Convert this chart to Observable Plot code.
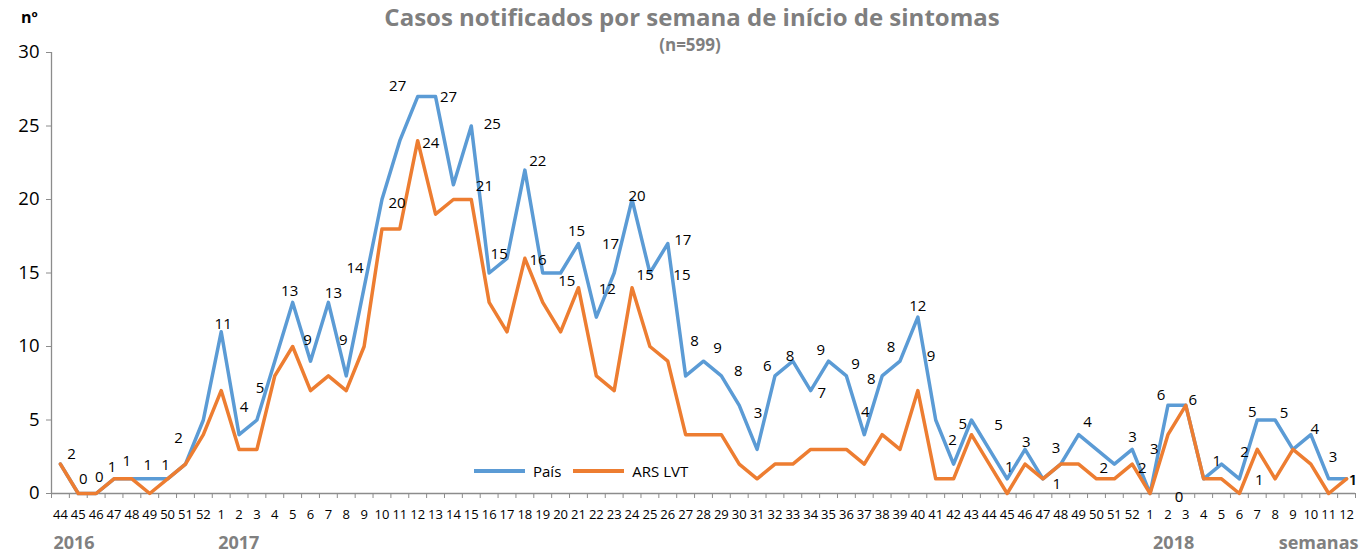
<!DOCTYPE html>
<html><head><meta charset="utf-8">
<script src="https://cdn.jsdelivr.net/npm/d3@7"></script>
<script src="https://cdn.jsdelivr.net/npm/@observablehq/plot@0.6"></script>
<style>
html,body{margin:0;padding:0;background:#fff;overflow:hidden;font-family:"Open Sans",sans-serif;}
#wrap{position:relative;width:1360px;height:558px;}
#chart{position:absolute;left:0;top:0;}
.abs{position:absolute;white-space:nowrap;}
#title{left:692px;top:1px;transform:translateX(-50%);font-weight:700;font-size:24px;color:#7f7f7f;line-height:32px;}
#sub{left:690px;top:34px;transform:translateX(-50%);font-weight:700;font-size:17px;color:#7f7f7f;line-height:22px;}
#ylab{left:21px;top:6px;font-weight:700;font-size:16px;color:#000;line-height:22px;}
#legend{left:474px;top:461px;font-size:15px;color:#000;line-height:20px;display:flex;align-items:center;}
.sw{display:inline-block;width:51px;height:3.5px;margin-right:8px;}
</style></head>
<body>
<div id="wrap">
  <div id="chart"></div>
  <div id="title" class="abs">Casos notificados por semana de início de sintomas</div>
  <div id="sub" class="abs">(n=599)</div>
  <div id="ylab" class="abs">nº</div>
  <div id="legend" class="abs"></div>
</div>
<script>
// ---- data ----
const weeks2016 = [44,45,46,47,48,49,50,51,52];
const weeks2017 = [1,2,3,4,5,6,7,8,9,10,11,12,13,14,15,16,17,18,19,20,21,22,23,24,25,26,27,28,29,30,31,32,33,34,35,36,37,38,39,40,41,42,43,44,45,46,47,48,49,50,51,52];
const weeks2018 = [1,2,3,4,5,6,7,8,9,10,11,12];
const yearLabels = ["2016","2017","2018"];
const seriesNames = ["País","ARS LVT"];
const pais = [2,0,0,1,1,1,1,2,5,
  11,4,5,9,13,9,13,8,14,20,24,27,27,21,25,15,16,22,15,15,17,12,15,20,15,17,8,9,8,6,3,8,9,7,9,8,4,8,9,12,5,2,5,3,1,3,1,2,4,3,2,3,
  0,6,6,1,2,1,5,5,3,4,1,1];
const ars = [2,0,0,1,1,0,1,2,4,
  7,3,3,8,10,7,8,7,10,18,18,24,19,20,20,13,11,16,13,11,14,8,7,14,10,9,4,4,4,2,1,2,2,3,3,3,2,4,3,7,1,1,4,2,0,2,1,2,2,1,1,2,
  0,4,6,1,1,0,3,1,3,2,0,1];
// data labels (as printed on the chart), attached to the week index of the País point
const labelIdx  = [0,1,2,3,4,5,6,7,9,10,11,13,14,15,16,17,18,19,20,21,22,23,24,25,26,27,28,29,30,31,32,33,34,35,36,37,38,39,40,41,42,43,44,45,46,47,48,49,50,51,52,53,54,55,56,57,58,59,60,61,62,63,64,65,66,67,68,69,70,71,72];
const labelText = ["2","0","0","1","1","1","1","2","11","4","5","13","9","13","9","14","20","24","27","27","21","25","15","16","22","15","15","17","12","15","20","15","17","8","9","8","6","3","8","9","7","9","8","4","8","9","12","5","2","5","3","1","3","1","2","4","3","2","3","0","6","6","1","2","1","5","5","3","4","1","1"];
// layout: pixel offsets of each data label from its point
const labelOffset = [[11,-10],[5,-14],[3,-16],[-2,-12],[-5,-18],[-2,-14],[-2,-14],[-7,-26],[2,-8],[5,-28],[3,-32],[-3,-11],[-3,-21],[5,-9],[-3,-36],[-9,-20],[15,4],[31,2],[-20,-10],[13,1],[31,1],[21,-2],[10,-19],[31,2],[13,-9],[24,8],[16,-42],[32,1],[11,-28],[31,2],[5,-3],[32,2],[15,-3],[9,-35],[14,-13],[17,-5],[28,-39],[1,-36],[15,-20],[28,-11],[11,3],[27,3],[25,3],[1,-23],[9,-29],[31,-5],[0,-11],[27,4],[-1,-24],[27,5],[37,-7],[2,-12],[31,-1],[14,5],[43,4],[9,-13],[36,-12],[28,4],[22,0],[29,4],[-7,-10],[7,-5],[13,-18],[23,-12],[20,1],[-5,-8],[9,-7],[40,8],[4,-6],[24,1],[7,1]];

const weekLabels = [...weeks2016, ...weeks2017, ...weeks2018];
const n = weekLabels.length;
const idx = d3.range(n);
const dPais = idx.map(i => ({i, v: pais[i]}));
const dArs = idx.map(i => ({i, v: ars[i]}));
const yearStart = [0, weeks2016.length, weeks2016.length + weeks2017.length];

const W = 1360, H = 558, mL = 51, mR = 5, mT = 52, mB = 65;
const kx = (W - mL - mR) / n;        // px per week
const ky = (H - mT - mB) / 30;       // px per case
const labels = labelIdx.map((i, k) => ({
  x: i + labelOffset[k][0] / kx,
  y: pais[i] - labelOffset[k][1] / ky,
  t: labelText[k]
}));

const BLUE = "#5B9BD5", ORANGE = "#ED7D31", GRAY = "#8c8c8c";
const yearDx = [-7, -3, 3];

const chart = Plot.plot({
  width: W, height: H,
  marginLeft: mL, marginRight: mR, marginTop: mT, marginBottom: mB,
  x: {domain: [-0.5, n - 0.5]},
  y: {domain: [0, 30]},
  style: {fontFamily: "Open Sans, sans-serif", background: "transparent", color: "#000"},
  marks: [
    Plot.ruleX([-0.5], {stroke: GRAY, strokeWidth: 1.3}),
    Plot.ruleY([0], {stroke: GRAY, strokeWidth: 1.3}),
    Plot.axisY({ticks: [0,5,10,15,20,25,30], tickSize: 5, tickPadding: 7, fontSize: 18.5, stroke: GRAY, fill: "#000", label: null}),
    Plot.axisX({ticks: d3.range(-0.5, n, 1), tickSize: 5, stroke: GRAY, tickFormat: () => "", label: null}),
    Plot.axisX({ticks: idx, tickSize: 0, tickPadding: 16, fontSize: 13, fill: "#000", tickFormat: i => weekLabels[i], label: null}),
    Plot.line(dPais, {x: "i", y: "v", stroke: BLUE, strokeWidth: 3.5, strokeLinejoin: "round"}),
    Plot.line(dArs, {x: "i", y: "v", stroke: ORANGE, strokeWidth: 3.5, strokeLinejoin: "round"}),
    Plot.text(labels, {x: "x", y: "y", text: "t", fontSize: 15, fill: "#000"}),
    ...yearLabels.map((yl, k) => Plot.text([yl], {x: yearStart[k], frameAnchor: "bottom", dy: 55, dx: yearDx[k], textAnchor: "start", fontSize: 18, fontWeight: "bold", fill: "#808080"})),
    Plot.text(["semanas"], {frameAnchor: "bottom-right", dx: 3, dy: 55, textAnchor: "end", fontSize: 18, fontWeight: "bold", fill: "#808080"})
  ]
});
document.getElementById("chart").appendChild(chart);

const leg = document.getElementById("legend");
[BLUE, ORANGE].forEach((c, k) => {
  const s = document.createElement("span"); s.className = "sw"; s.style.background = c;
  const t = document.createElement("span"); t.textContent = seriesNames[k]; t.style.marginRight = k === 0 ? "12px" : "0";
  leg.appendChild(s); leg.appendChild(t);
});
</script>
</body></html>
